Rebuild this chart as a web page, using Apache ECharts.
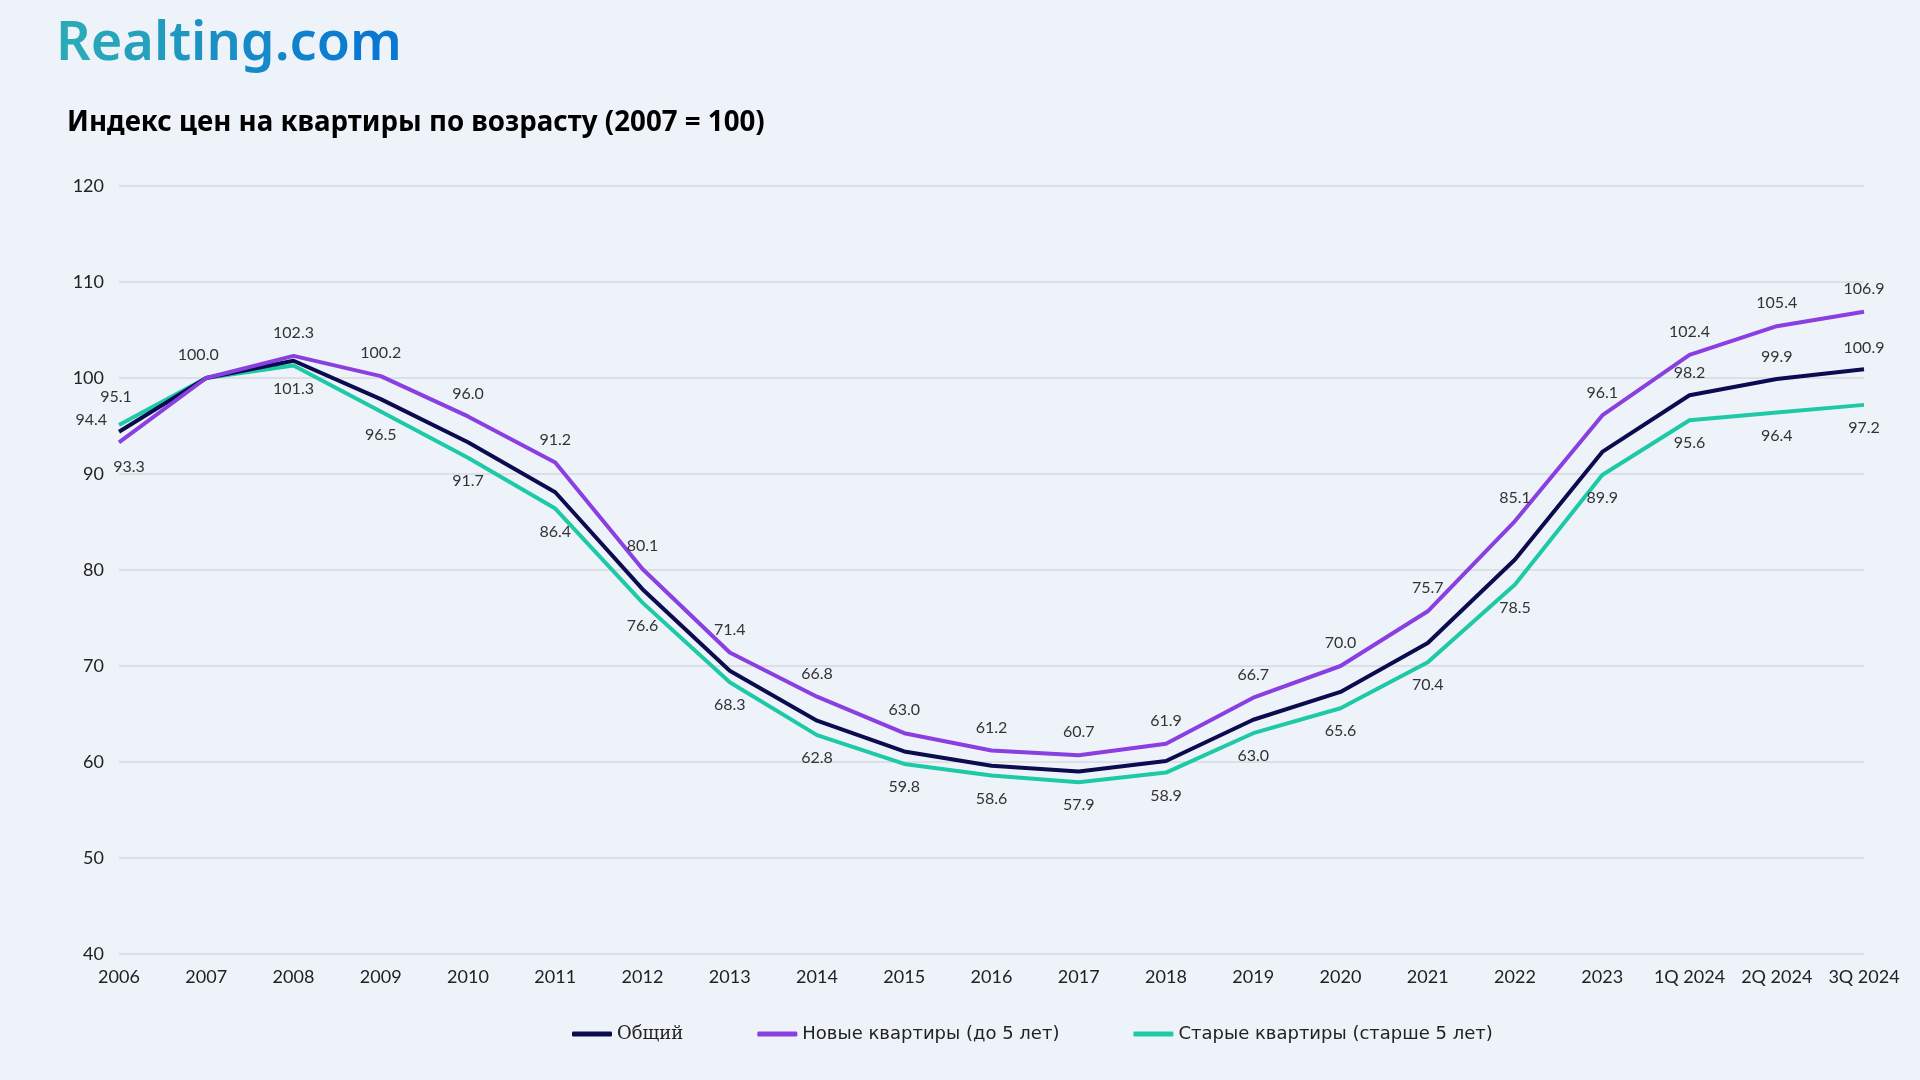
<!DOCTYPE html>
<html>
<head>
<meta charset="utf-8">
<script src="https://cdn.jsdelivr.net/npm/echarts@6/dist/echarts.min.js"></script>
<style>
html,body{margin:0;padding:0;background:#eef3fa;}
#chart{width:1920px;height:1080px;}
</style>
</head>
<body>
<div id="chart"></div>
<script>
const categories = ['2006','2007','2008','2009','2010','2011','2012','2013','2014','2015','2016','2017','2018','2019','2020','2021','2022','2023','1Q 2024','2Q 2024','3Q 2024'];
const totalValues = [94.4,100.0,101.8,97.8,93.3,88.1,78.0,69.5,64.3,61.1,59.6,59.0,60.1,64.4,67.3,72.4,81.1,92.3,98.2,99.9,100.9];
const newValues = [93.3,100.0,102.3,100.2,96.0,91.2,80.1,71.4,66.8,63.0,61.2,60.7,61.9,66.7,70.0,75.7,85.1,96.1,102.4,105.4,106.9];
const oldValues = [95.1,100.0,101.3,96.5,91.7,86.4,76.6,68.3,62.8,59.8,58.6,57.9,58.9,63.0,65.6,70.4,78.5,89.9,95.6,96.4,97.2];
const seriesNames = ['Общий','Новые квартиры (до 5 лет)','Старые квартиры (старше 5 лет)'];
const yTicks = {min:40, max:120, interval:10};
const logoText = 'Realting.com';

const labelFont = {fontFamily:'Lato, "Noto Sans", sans-serif', fontSize:16, color:'#333'};
function fmt(p){ return Number(p.value).toFixed(1); }

const totalData = totalValues.map((v,i)=>{
  const last = i >= categories.length-3;
  if (i===0) return {value:v, label:{show:true, position:'left', distance:10}};
  if (last) return {value:v, label:{show:true, position:'top', distance:14}};
  return {value:v, label:{show:false}};
});
const newData = newValues.map((v,i)=>{
  if (i===0) return {value:v, label:{show:true, position:'bottom', distance:14}};
  return {value:v, label:{show:true, position:'top', distance:15}};
});
const oldData = oldValues.map((v,i)=>{
  if (i===0) return {value:v, label:{show:true, position:'top', distance:14}};
  if (i===1) return {value:v, label:{show:false}};
  return {value:v, label:{show:true, position:'bottom', distance:15}};
});

// small nudges for the crowded first/second points
const nudges = {
  '0_0':{dx:-2, dy:-12},
  '1_0':{dx:10, dy:3},
  '1_1':{dx:-8, dy:0},
  '2_0':{dx:-3, dy:-6}
};

function lineSeries(name, data, color, z){
  return {
    name:name, type:'line', data:data, z:z,
    symbol:'circle', symbolSize:0, showSymbol:true, showAllSymbol:true,
    lineStyle:{color:color, width:4}, itemStyle:{color:color},
    label:Object.assign({show:false, formatter:fmt}, labelFont),
    labelLayout:function(p){
      const n = nudges[p.seriesIndex+'_'+p.dataIndex];
      return n ? {dx:n.dx, dy:n.dy, hideOverlap:false} : {hideOverlap:false};
    },
    emphasis:{disabled:true}
  };
}

// logo: per-letter colour blend teal -> blue
const c0 = [42,170,182], c1 = [10,120,210];
const logoRich = {};
let logoStr = '';
for (let i=0;i<logoText.length;i++){
  const t = i/(logoText.length-1);
  const c = c0.map((a,k)=>Math.round(a+(c1[k]-a)*t));
  logoRich['c'+i] = {color:'rgb('+c.join(',')+')', fontFamily:'"Noto Sans", sans-serif', fontWeight:600, fontSize:54};
  logoStr += '{c'+i+'|'+logoText[i]+'}';
}

const chart = echarts.init(document.getElementById('chart'), null, {renderer:'canvas'});
chart.setOption({
  backgroundColor:'#eef3fa',
  animation:false,
  title:[{
    text:'Индекс цен на квартиры по возрасту (2007 = 100)',
    left:62, top:104,
    textStyle:{fontFamily:'"Noto Sans", sans-serif', fontWeight:'bold', fontSize:27.7, color:'#000'}
  },{
    text:logoStr,
    left:51, top:13,
    textStyle:{rich:logoRich}
  }],
  legend:{
    left:567, top:1020,
    itemWidth:40, itemHeight:5, itemGap:74,
    icon:'roundRect',
    textStyle:{fontFamily:'"DejaVu Sans", sans-serif', fontSize:18, color:'#222',
      rich:{s:{fontFamily:'"DejaVu Serif", serif', fontSize:18, color:'#222'}}},
    formatter:function(name){ return name===seriesNames[0] ? '{s|'+name+'}' : name; },
    data:seriesNames
  },
  grid:{left:119, right:56, top:186, bottom:126, containLabel:false},
  xAxis:{
    type:'category', data:categories, boundaryGap:false,
    axisLine:{show:false}, axisTick:{show:false},
    axisLabel:{fontFamily:'Lato, "Noto Sans", sans-serif', fontSize:18, color:'#222', margin:14, interval:0}
  },
  yAxis:{
    type:'value', min:yTicks.min, max:yTicks.max, interval:yTicks.interval,
    axisLine:{show:false}, axisTick:{show:false},
    axisLabel:{fontFamily:'Lato, "Noto Sans", sans-serif', fontSize:18, color:'#222', margin:15},
    splitLine:{lineStyle:{color:'#d6d9de', width:1.5}}
  },
  series:[
    lineSeries(seriesNames[0], totalData, '#0b0b4f', 3),
    lineSeries(seriesNames[1], newData, '#8a3fe0', 4),
    lineSeries(seriesNames[2], oldData, '#1ec9a6', 2)
  ]
});
</script>
</body>
</html>
